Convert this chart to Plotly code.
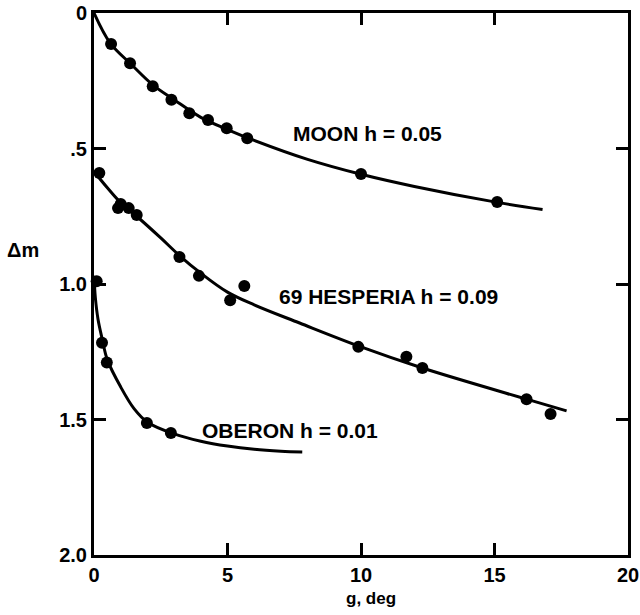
import plotly.graph_objects as go

# ---- data ----
moon_obs_g = [0.64, 1.35, 2.2, 2.9, 3.57, 4.27, 4.97, 5.74, 10.0, 15.1]
moon_obs_dm = [0.114, 0.185, 0.27, 0.32, 0.37, 0.395, 0.425, 0.462, 0.594, 0.697]
moon_fit_g = [0, 0.6, 1.4, 2.2, 3.0, 4.0, 5.0, 6.0, 8.0, 10.0, 12.0, 15.0, 16.8]
moon_fit_dm = [0, 0.11, 0.19, 0.265, 0.32, 0.385, 0.43, 0.47, 0.54, 0.595, 0.64, 0.697, 0.725]

hesp_obs_g = [0.2, 0.9, 1.0, 1.3, 1.6, 3.2, 3.93, 5.63, 5.1, 9.9, 11.7, 12.3, 16.2, 17.1]
hesp_obs_dm = [0.59, 0.72, 0.705, 0.72, 0.745, 0.90, 0.97, 1.007, 1.06, 1.232, 1.268, 1.31, 1.425, 1.48]
hesp_fit_g = [0, 0.5, 1.0, 1.6, 2.5, 3.2, 4.0, 5.0, 6.0, 7.7, 10.0, 12.3, 16.2, 17.7]
hesp_fit_dm = [0.585, 0.645, 0.70, 0.75, 0.83, 0.895, 0.96, 1.03, 1.077, 1.144, 1.232, 1.31, 1.425, 1.468]

ober_obs_g = [0.1, 0.3, 0.48, 1.98, 2.88]
ober_obs_dm = [0.99, 1.217, 1.29, 1.513, 1.55]
ober_fit_g = [0, 0.05, 0.15, 0.3, 0.5, 1.0, 1.5, 2.0, 3.0, 4.0, 5.0, 6.0, 7.0, 7.8]
ober_fit_dm = [0.97, 1.05, 1.13, 1.2, 1.28, 1.38, 1.46, 1.51, 1.553, 1.58, 1.598, 1.61, 1.617, 1.62]

x_ticks = [0, 5, 10, 15, 20]
x_tick_text = ["0", "5", "10", "15", "20"]
y_ticks = [0, 0.5, 1.0, 1.5, 2.0]
y_tick_text = ["0", ".5", "1.0", "1.5", "2.0"]

labels = ["MOON h = 0.05", "69 HESPERIA h = 0.09", "OBERON h = 0.01"]
label_g = [7.38, 6.85, 3.97]
label_dm = [0.443, 1.045, 1.539]

FONT = "Liberation Sans, Arial, sans-serif"

fig = go.Figure()
for fg, fd, og, od in [
    (moon_fit_g, moon_fit_dm, moon_obs_g, moon_obs_dm),
    (hesp_fit_g, hesp_fit_dm, hesp_obs_g, hesp_obs_dm),
    (ober_fit_g, ober_fit_dm, ober_obs_g, ober_obs_dm),
]:
    fig.add_trace(go.Scatter(x=fg, y=fd, mode="lines",
                             line=dict(color="black", width=3, shape="spline", smoothing=1.0),
                             showlegend=False, hoverinfo="skip"))
    fig.add_trace(go.Scatter(x=og, y=od, mode="markers",
                             marker=dict(color="black", size=12),
                             showlegend=False, cliponaxis=False))

for t, gx, dy in zip(labels, label_g, label_dm):
    fig.add_annotation(x=gx, y=dy, text=t, showarrow=False, xanchor="left", yanchor="middle",
                       font=dict(family=FONT, size=21, color="black", weight="bold"))

fig.add_annotation(x=-0.133, xref="paper", y=0.875, yref="y", text="Δm", showarrow=False,
                   xanchor="center", yanchor="middle",
                   font=dict(family=FONT, size=20, color="black", weight="bold"))
fig.add_annotation(x=10.37, y=-0.08, yref="paper", text="g, deg", showarrow=False,
                   xanchor="center", yanchor="middle",
                   font=dict(family=FONT, size=17, color="black", weight="bold"))

axis_common = dict(showline=True, linecolor="black", linewidth=3, mirror="ticks",
                   ticks="inside", ticklen=12, tickwidth=2.5, tickcolor="black",
                   showgrid=False, zeroline=False, automargin=False,
                   tickfont=dict(family=FONT, size=20, color="black", weight="bold"))

fig.update_xaxes(range=[0, 20], tickvals=x_ticks, ticktext=x_tick_text, **axis_common)
fig.update_yaxes(range=[2, 0], tickvals=y_ticks, ticktext=y_tick_text, **axis_common)

fig.update_layout(width=640, height=615,
                  margin=dict(l=94, r=12, t=13, b=60),
                  paper_bgcolor="white", plot_bgcolor="white",
                  font=dict(family=FONT, color="black"))

fig.write_html("out.html", config={"displayModeBar": False},
               post_script="document.body.style.margin='0';")
